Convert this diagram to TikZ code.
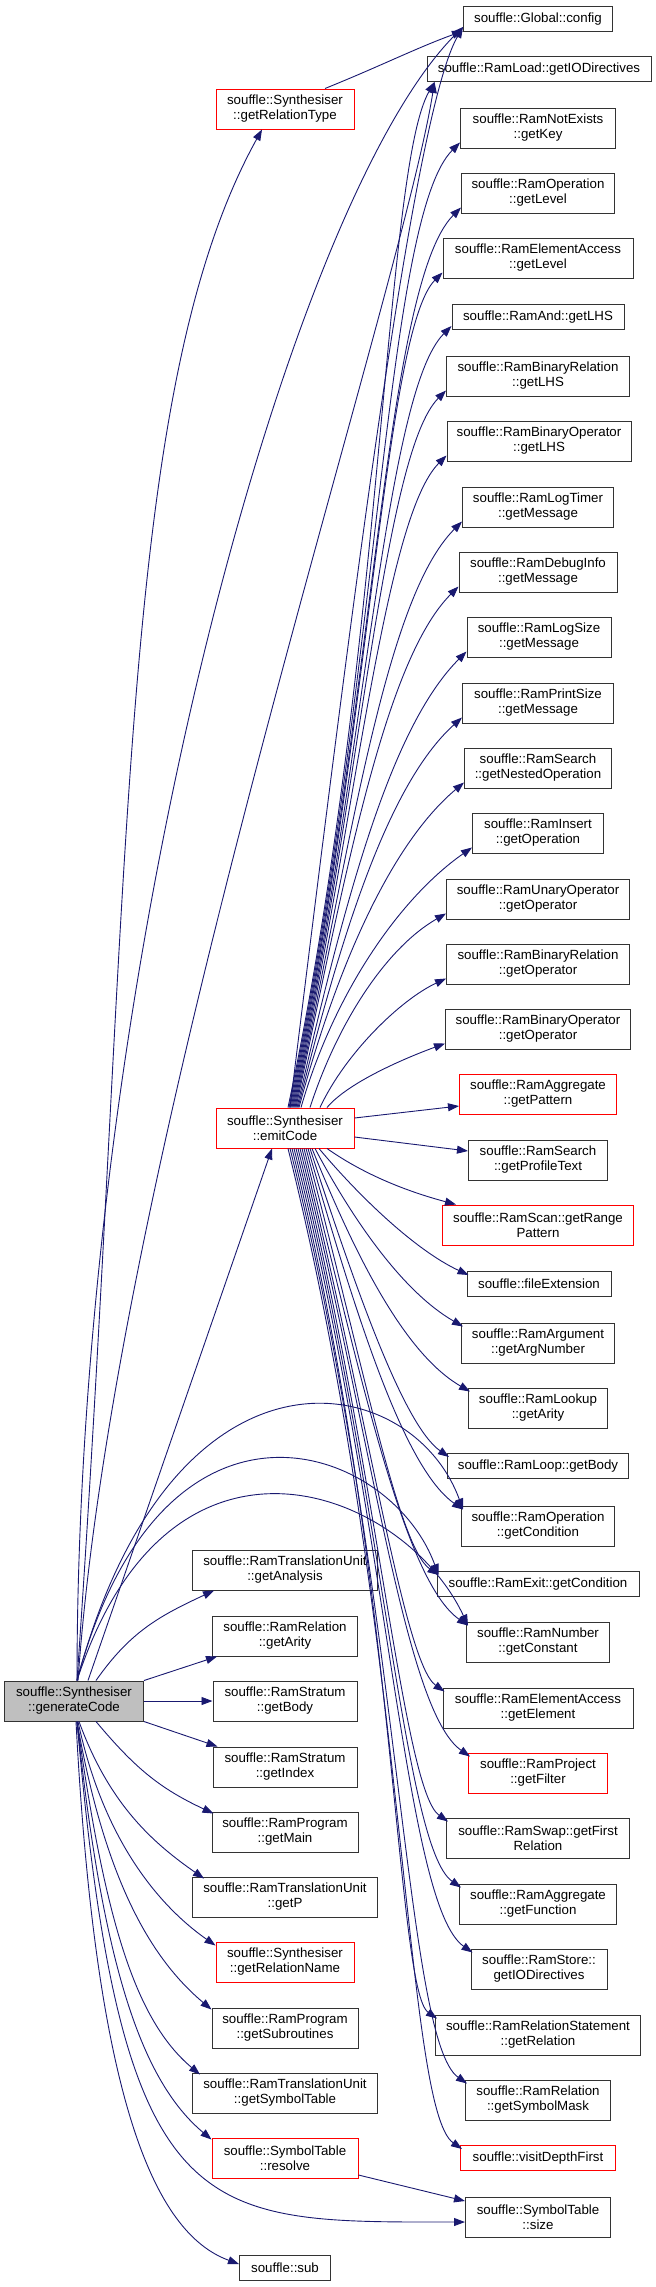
\documentclass[tikz,border=0pt]{standalone}
\usepackage{fontspec}
\setmainfont{Liberation Sans}
\usetikzlibrary{arrows.meta}

\definecolor{edgeblue}{RGB}{25,25,112}
\definecolor{callergray}{RGB}{191,191,191}

\begin{document}
\begin{tikzpicture}[
x=1pt, y=-1pt,
font=\fontsize{13.3}{15}\selectfont,
fn/.style={draw=black!80, line width=1pt, fill=white, align=center, inner sep=1pt, minimum height=40pt},
fnred/.style={fn, draw=red},
fnone/.style={fn, minimum height=25pt},
fnonered/.style={fnone, draw=red},
call/.style={draw=edgeblue, line width=0.9pt, -{Triangle[length=11pt,width=8pt]}}
]

\useasboundingbox (0,0) rectangle (656,2287);

%%%%%%%%%%%%%%%%%%%%%%%%%%%%%%%%%%%%%%%%%%%%%%%%%%%%%%
% CALLER
%%%%%%%%%%%%%%%%%%%%%%%%%%%%%%%%%%%%%%%%%%%%%%%%%%%%%%

\node[fn, fill=callergray, minimum width=139pt] (gencode) at (74,1701) {souffle::Synthesiser\\::generateCode};

%%%%%%%%%%%%%%%%%%%%%%%%%%%%%%%%%%%%%%%%%%%%%%%%%%%%%%
% MIDDLE COLUMN
%%%%%%%%%%%%%%%%%%%%%%%%%%%%%%%%%%%%%%%%%%%%%%%%%%%%%%

\node[fnred, minimum width=138pt] (reltype) at (285,109) {souffle::Synthesiser\\::getRelationType};
\node[fnred, minimum width=138pt] (emit) at (285,1128) {souffle::Synthesiser\\::emitCode};
\node[fn, minimum width=185pt] (analysis) at (285,1570) {souffle::RamTranslationUnit\\::getAnalysis};
\node[fn, minimum width=145pt] (relarity) at (285,1636) {souffle::RamRelation\\::getArity};
\node[fn, minimum width=144pt] (strbody) at (285,1701) {souffle::RamStratum\\::getBody};
\node[fn, minimum width=144pt] (strindex) at (285,1767) {souffle::RamStratum\\::getIndex};
\node[fn, minimum width=146pt] (progmain) at (285,1832) {souffle::RamProgram\\::getMain};
\node[fn, minimum width=185pt] (unitp) at (285,1897) {souffle::RamTranslationUnit\\::getP};
\node[fnred, minimum width=138pt] (relname) at (285,1962) {souffle::Synthesiser\\::getRelationName};
\node[fn, minimum width=146pt] (subroutines) at (285,2028) {souffle::RamProgram\\::getSubroutines};
\node[fn, minimum width=185pt] (symtable) at (285,2093) {souffle::RamTranslationUnit\\::getSymbolTable};
\node[fnred, minimum width=146pt] (resolve) at (285,2158) {souffle::SymbolTable\\::resolve};
\node[fnone, minimum width=91pt] (sub) at (285,2268) {souffle::sub};

%%%%%%%%%%%%%%%%%%%%%%%%%%%%%%%%%%%%%%%%%%%%%%%%%%%%%%
% RIGHT COLUMN
%%%%%%%%%%%%%%%%%%%%%%%%%%%%%%%%%%%%%%%%%%%%%%%%%%%%%%

\node[fnone, minimum width=149pt] (config) at (538,19) {souffle::Global::config};
\node[fnone, minimum width=224pt] (loadio) at (539,69) {souffle::RamLoad::getIODirectives};
\node[fn, minimum width=155pt] (notexists) at (538,128) {souffle::RamNotExists\\::getKey};
\node[fn, minimum width=153pt] (oplevel) at (538,193) {souffle::RamOperation\\::getLevel};
\node[fn, minimum width=190pt] (ealevel) at (538,258) {souffle::RamElementAccess\\::getLevel};
\node[fnone, minimum width=172pt] (andlhs) at (538,317) {souffle::RamAnd::getLHS};
\node[fn, minimum width=183pt] (brlhs) at (538,376) {souffle::RamBinaryRelation\\::getLHS};
\node[fn, minimum width=184pt] (bolhs) at (539,441) {souffle::RamBinaryOperator\\::getLHS};
\node[fn, minimum width=151pt] (logtimer) at (538,507) {souffle::RamLogTimer\\::getMessage};
\node[fn, minimum width=158pt] (debuginfo) at (538,572) {souffle::RamDebugInfo\\::getMessage};
\node[fn, minimum width=144pt] (logsize) at (539,637) {souffle::RamLogSize\\::getMessage};
\node[fn, minimum width=151pt] (printsize) at (538,703) {souffle::RamPrintSize\\::getMessage};
\node[fn, minimum width=147pt] (nestedop) at (538,768) {souffle::RamSearch\\::getNestedOperation};
\node[fn, minimum width=131pt] (insertop) at (538,833) {souffle::RamInsert\\::getOperation};
\node[fn, minimum width=183pt] (unop) at (538,899) {souffle::RamUnaryOperator\\::getOperator};
\node[fn, minimum width=183pt] (brop) at (538,964) {souffle::RamBinaryRelation\\::getOperator};
\node[fn, minimum width=185pt] (boop) at (538,1029) {souffle::RamBinaryOperator\\::getOperator};
\node[fnred, minimum width=157pt] (aggpattern) at (538,1094) {souffle::RamAggregate\\::getPattern};
\node[fn, minimum width=139pt] (proftext) at (538,1160) {souffle::RamSearch\\::getProfileText};
\node[fnred, minimum width=191pt] (rangepat) at (538,1225) {souffle::RamScan::getRange\\Pattern};
\node[fnone, minimum width=144pt] (fileext) at (539,1284) {souffle::fileExtension};
\node[fn, minimum width=153pt] (argnum) at (538,1343) {souffle::RamArgument\\::getArgNumber};
\node[fn, minimum width=139pt] (lookarity) at (538,1408) {souffle::RamLookup\\::getArity};
\node[fnone, minimum width=181pt] (loopbody) at (538,1466) {souffle::RamLoop::getBody};
\node[fn, minimum width=153pt] (opcond) at (538,1526) {souffle::RamOperation\\::getCondition};
\node[fnone, minimum width=202pt] (exitcond) at (538,1584) {souffle::RamExit::getCondition};
\node[fn, minimum width=143pt] (numconst) at (538,1642) {souffle::RamNumber\\::getConstant};
\node[fn, minimum width=190pt] (eaelem) at (538,1708) {souffle::RamElementAccess\\::getElement};
\node[fnred, minimum width=139pt] (projfilter) at (538,1773) {souffle::RamProject\\::getFilter};
\node[fn, minimum width=183pt] (swaprel) at (538,1838) {souffle::RamSwap::getFirst\\Relation};
\node[fn, minimum width=157pt] (aggfunc) at (538,1904) {souffle::RamAggregate\\::getFunction};
\node[fn, minimum width=136pt] (storeio) at (539,1969) {souffle::RamStore::\\getIODirectives};
\node[fn, minimum width=205pt] (relstmt) at (538,2035) {souffle::RamRelationStatement\\::getRelation};
\node[fn, minimum width=145pt] (symmask) at (538,2100) {souffle::RamRelation\\::getSymbolMask};
\node[fnonered, minimum width=155pt] (visitdf) at (538,2158) {souffle::visitDepthFirst};
\node[fn, minimum width=145pt] (symsize) at (538,2217) {souffle::SymbolTable\\::size};

%%%%%%%%%%%%%%%%%%%%%%%%%%%%%%%%%%%%%%%%%%%%%%%%%%%%%%
% CALLS FROM generateCode
%%%%%%%%%%%%%%%%%%%%%%%%%%%%%%%%%%%%%%%%%%%%%%%%%%%%%%

\draw[call] ([xshift=3pt]gencode.north) .. controls +(86:800pt) and +(-119:300pt) .. ([xshift=-23pt]reltype.south);
\draw[call] ([xshift=14pt]gencode.north) -- ([xshift=-13pt]emit.south);
\draw[call] ([xshift=3pt]gencode.north) .. controls +(90:700pt) and +(225:250pt) .. ([yshift=5pt]config.south west);
\draw[call] ([xshift=4pt]gencode.north) .. controls +(86:532pt) and +(-99:221pt) .. ([xshift=8pt]loadio.south west);
\draw[call] ([xshift=3pt]gencode.north) .. controls +(75:370pt) and +(110:150pt) .. ([xshift=2pt,yshift=-4pt]opcond.north west);
\draw[call] ([xshift=3pt]gencode.north) .. controls +(75:330pt) and +(110:140pt) .. ([xshift=2pt,yshift=-4pt]exitcond.north west);
\draw[call] ([xshift=3pt]gencode.north) .. controls +(72:300pt) and +(115:150pt) .. ([xshift=2pt,yshift=-4pt]numconst.north west);
\draw[call] ([xshift=22pt]gencode.north) .. controls +(55:60pt) and +(205:60pt) .. ([xshift=22pt]analysis.south west);
\draw[call] (gencode.north east) -- ([xshift=5pt]relarity.south west);
\draw[call] (gencode.east) -- (strbody.west);
\draw[call] (gencode.south east) -- ([xshift=5pt]strindex.north west);
\draw[call] ([xshift=22pt]gencode.south) .. controls +(-50:60pt) and +(155:60pt) .. ([xshift=2pt,yshift=-2pt]progmain.north west);
\draw[call] ([xshift=5pt]gencode.south) .. controls +(-70:90pt) and +(145:60pt) .. ([xshift=12pt,yshift=-2pt]unitp.north west);
\draw[call] ([xshift=4pt]gencode.south) .. controls +(-78:120pt) and +(145:70pt) .. ([yshift=-4pt]relname.north west);
\draw[call] ([xshift=3pt]gencode.south) .. controls +(-80:160pt) and +(140:80pt) .. ([yshift=-2pt]subroutines.north west);
\draw[call] ([xshift=3pt]gencode.south) .. controls +(-82:200pt) and +(140:85pt) .. ([xshift=8pt,yshift=-2pt]symtable.north west);
\draw[call] ([xshift=3pt]gencode.south) .. controls +(-84:250pt) and +(140:90pt) .. ([yshift=-2pt]resolve.north west);
\draw[call] ([xshift=2pt]gencode.south) .. controls +(-87:380pt) and +(160:90pt) .. ([yshift=4pt]sub.west);
\draw[call] ([xshift=3pt]gencode.south) .. controls +(-85:510pt) and +(180:266pt) .. ([yshift=-5pt]symsize.west);

%%%%%%%%%%%%%%%%%%%%%%%%%%%%%%%%%%%%%%%%%%%%%%%%%%%%%%
% OTHER CALLERS
%%%%%%%%%%%%%%%%%%%%%%%%%%%%%%%%%%%%%%%%%%%%%%%%%%%%%%

\draw[call] ([xshift=40pt]reltype.north) .. controls +(22:60pt) and +(200:50pt) .. ([yshift=1pt]config.south west);
\draw[call] ([yshift=-17pt]resolve.east) -- ([yshift=16pt]symsize.west);

%%%%%%%%%%%%%%%%%%%%%%%%%%%%%%%%%%%%%%%%%%%%%%%%%%%%%%
% CALLS FROM emitCode (UP)
%%%%%%%%%%%%%%%%%%%%%%%%%%%%%%%%%%%%%%%%%%%%%%%%%%%%%%

\draw[call] ([xshift=5pt]emit.north) .. controls +(83:500pt) and +(240:100pt) .. ([yshift=5pt]config.south west);
\draw[call] ([xshift=3pt]emit.north) .. controls +(78:460pt) and +(240:100pt) .. ([xshift=8pt]loadio.south west);
\draw[call] ([xshift=4pt]emit.north) .. controls +(78:435pt) and +(225:107pt) .. ([yshift=6pt]notexists.south west);
\draw[call] ([xshift=5pt]emit.north) .. controls +(78:405pt) and +(225:109pt) .. ([yshift=6pt]oplevel.south west);
\draw[call] ([xshift=6pt]emit.north) .. controls +(78:376pt) and +(225:82pt) .. ([yshift=6pt]ealevel.south west);
\draw[call] ([xshift=7pt]emit.north) .. controls +(78:352pt) and +(225:95pt) .. ([yshift=4pt]andlhs.south west);
\draw[call] ([xshift=8pt]emit.north) .. controls +(78:323pt) and +(225:88pt) .. ([yshift=6pt]brlhs.south west);
\draw[call] ([xshift=9pt]emit.north) .. controls +(78:294pt) and +(225:88pt) .. ([yshift=6pt]bolhs.south west);
\draw[call] ([xshift=10pt]emit.north) .. controls +(78:264pt) and +(225:110pt) .. ([yshift=6pt]logtimer.south west);
\draw[call] ([xshift=11pt]emit.north) .. controls +(78:235pt) and +(225:105pt) .. ([yshift=6pt]debuginfo.south west);
\draw[call] ([xshift=12pt]emit.north) .. controls +(77:206pt) and +(225:110pt) .. ([yshift=6pt]logsize.south west);
\draw[call] ([xshift=13pt]emit.north) .. controls +(76:176pt) and +(222:100pt) .. ([yshift=6pt]printsize.south west);
\draw[call] ([xshift=14pt]emit.north) .. controls +(75:147pt) and +(220:95pt) .. ([yshift=6pt]nestedop.south west);
\draw[call] ([xshift=16pt]emit.north) .. controls +(74:117pt) and +(215:90pt) .. ([yshift=6pt]insertop.south west);
\draw[call] ([xshift=25pt]emit.north) .. controls +(72:88pt) and +(210:70pt) .. ([yshift=6pt]unop.south west);
\draw[call] ([xshift=35pt]emit.north) .. controls +(65:60pt) and +(205:50pt) .. ([yshift=6pt]brop.south west);
\draw[call] ([xshift=42pt]emit.north) .. controls +(50:35pt) and +(200:35pt) .. ([yshift=6pt]boop.south west);
\draw[call] ([yshift=10pt]emit.east) -- ([yshift=-12pt]aggpattern.west);
\draw[call] ([yshift=-9pt]emit.east) -- ([yshift=9pt]proftext.west);

%%%%%%%%%%%%%%%%%%%%%%%%%%%%%%%%%%%%%%%%%%%%%%%%%%%%%%
% CALLS FROM emitCode (DOWN)
%%%%%%%%%%%%%%%%%%%%%%%%%%%%%%%%%%%%%%%%%%%%%%%%%%%%%%

\draw[call] ([xshift=42pt]emit.south) .. controls +(-35:50pt) and +(165:45pt) .. ([xshift=14pt]rangepat.north west);
\draw[call] ([xshift=34pt]emit.south) .. controls +(-50:60pt) and +(155:60pt) .. ([xshift=2pt,yshift=-4pt]fileext.north west);
\draw[call] ([xshift=30pt]emit.south) .. controls +(-62:85pt) and +(150:68pt) .. ([xshift=2pt,yshift=-4pt]argnum.north west);
\draw[call] ([xshift=27pt]emit.south) .. controls +(-68:115pt) and +(150:76pt) .. ([xshift=2pt,yshift=-4pt]lookarity.north west);
\draw[call] ([xshift=25pt]emit.south) .. controls +(-72:150pt) and +(145:55pt) .. ([xshift=2pt,yshift=-4pt]loopbody.north west);
\draw[call] ([xshift=23pt]emit.south) .. controls +(-74:175pt) and +(145:72pt) .. ([xshift=2pt,yshift=-4pt]opcond.north west);
\draw[call] ([xshift=21pt]emit.south) .. controls +(-75:210pt) and +(145:50pt) .. ([xshift=2pt,yshift=-4pt]exitcond.north west);
\draw[call] ([xshift=19pt]emit.south) .. controls +(-76:235pt) and +(145:78pt) .. ([xshift=2pt,yshift=-4pt]numconst.north west);
\draw[call] ([xshift=17pt]emit.south) .. controls +(-76:265pt) and +(145:50pt) .. ([xshift=2pt,yshift=-4pt]eaelem.north west);
\draw[call] ([xshift=15pt]emit.south) .. controls +(-76:300pt) and +(145:80pt) .. ([xshift=2pt,yshift=-4pt]projfilter.north west);
\draw[call] ([xshift=13pt]emit.south) .. controls +(-76:330pt) and +(145:55pt) .. ([xshift=2pt,yshift=-4pt]swaprel.north west);
\draw[call] ([xshift=11pt]emit.south) .. controls +(-76:365pt) and +(145:70pt) .. ([xshift=2pt,yshift=-4pt]aggfunc.north west);
\draw[call] ([xshift=9pt]emit.south) .. controls +(-76:395pt) and +(145:83pt) .. ([xshift=2pt,yshift=-4pt]storeio.north west);
\draw[call] ([xshift=7pt]emit.south) .. controls +(-76:430pt) and +(145:50pt) .. ([xshift=2pt,yshift=-4pt]relstmt.north west);
\draw[call] ([xshift=5pt]emit.south) .. controls +(-76:460pt) and +(145:77pt) .. ([xshift=2pt,yshift=-4pt]symmask.north west);
\draw[call] ([xshift=3pt]emit.south) .. controls +(-76:495pt) and +(145:71pt) .. ([xshift=2pt,yshift=-4pt]visitdf.north west);

\end{tikzpicture}
\end{document}
